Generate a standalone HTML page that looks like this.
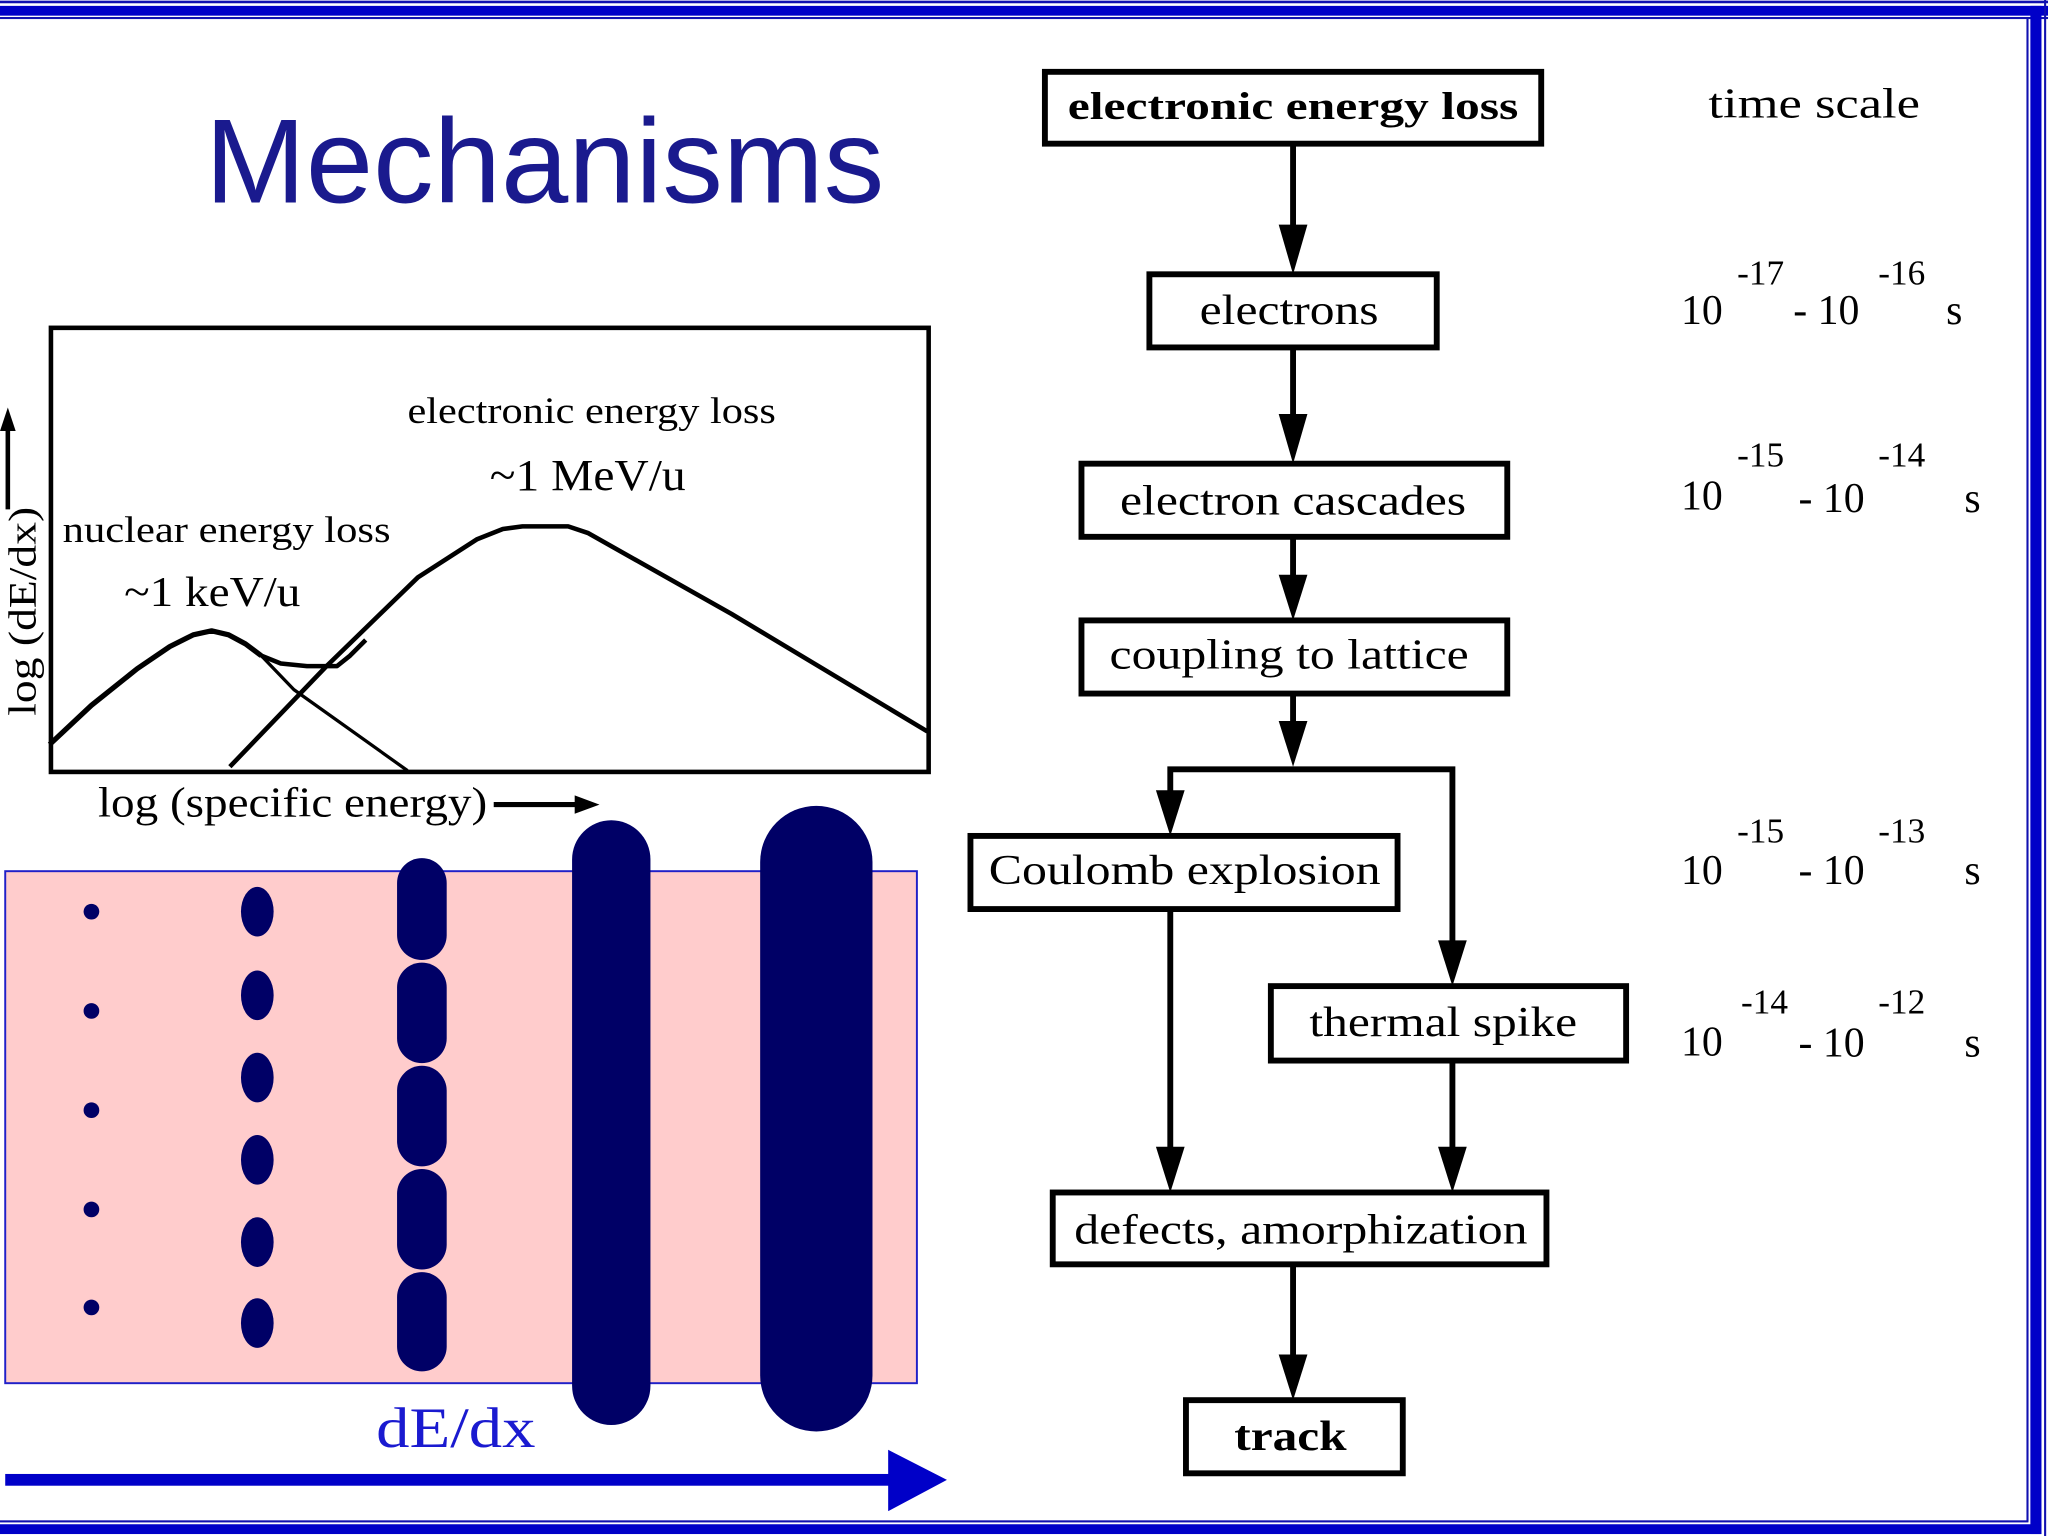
<!DOCTYPE html>
<html><head><meta charset="utf-8"><style>html,body{margin:0;padding:0;background:#fff}svg{display:block}</style></head>
<body>
<svg width="2048" height="1536" viewBox="0 0 1568 1176" preserveAspectRatio="none" xmlns="http://www.w3.org/2000/svg" font-family="Liberation Serif, serif">
<rect width="1568" height="1176" fill="#fff"/>
<rect x="0" y="0.5" width="1568" height="2" fill="#1010b0"/>
<rect x="0" y="4.5" width="1568" height="7.5" fill="#0000c8"/>
<rect x="0" y="13" width="1568" height="1.6" fill="#1010b0"/>
<rect x="1551.5" y="13" width="1.6" height="1152" fill="#1010b0"/>
<rect x="1554.5" y="4.5" width="8.5" height="1170" fill="#0000c8"/>
<rect x="1565" y="0" width="1.6" height="1176" fill="#1010b0"/>
<rect x="0" y="1164" width="1553" height="1.6" fill="#1010b0"/>
<rect x="0" y="1167" width="1563" height="7.5" fill="#0000c8"/>

<text x="157" y="155" font-family="Liberation Sans, sans-serif" font-size="92" fill="#1a1a8e" textLength="520" lengthAdjust="spacingAndGlyphs">Mechanisms</text>

<rect x="39" y="251" width="672" height="340" fill="none" stroke="#000" stroke-width="3.5"/>
<text transform="translate(27,548) rotate(-90)" font-size="30" textLength="160" lengthAdjust="spacingAndGlyphs">log (dE/dx)</text>
<line x1="6" y1="390" x2="6" y2="325" stroke="#000" stroke-width="3.5"/>
<polygon points="0,330 6,312 12,330" fill="#000"/>
<text x="312" y="324" font-size="28" textLength="282" lengthAdjust="spacingAndGlyphs">electronic energy loss</text>
<text x="375" y="375" font-size="34" textLength="150" lengthAdjust="spacingAndGlyphs">~1 MeV/u</text>
<text x="48" y="415" font-size="28" textLength="251" lengthAdjust="spacingAndGlyphs">nuclear energy loss</text>
<text x="95" y="464" font-size="32" textLength="135" lengthAdjust="spacingAndGlyphs">~1 keV/u</text>
<g fill="none" stroke="#000" stroke-linejoin="round">
<polyline points="38,570 70,540 105,512 130,495 148,486 162,483 175,486 188,493 200,502 225,528 312,590" stroke-width="2.5"/>
<polyline points="38,570 70,540 105,512 130,495 148,486 162,483 175,486 188,493 200,502" stroke-width="4"/>
<polyline points="200,502 215,508 235,510 258,510 268,502 280,490" stroke-width="3.5"/>
<polyline points="176,587 250,510 320,442 365,413 385,405 400,403 435,403 450,408 560,470 640,518 710,560" stroke-width="3.5"/>
</g>
<text x="75" y="625" font-size="32" textLength="298" lengthAdjust="spacingAndGlyphs">log (specific energy)</text>
<line x1="378" y1="616" x2="445" y2="616" stroke="#000" stroke-width="4"/>
<polygon points="440,609 459,616 440,623" fill="#000"/>

<rect x="4" y="667" width="698" height="392" fill="#ffcccc" stroke="#2020c8" stroke-width="1.5"/>
<g fill="#000066">
<circle cx="70" cy="698" r="6"/><circle cx="70" cy="774" r="6"/><circle cx="70" cy="850" r="6"/><circle cx="70" cy="926" r="6"/><circle cx="70" cy="1001" r="6"/>
<ellipse cx="197" cy="698" rx="12.5" ry="19"/><ellipse cx="197" cy="762" rx="12.5" ry="19"/><ellipse cx="197" cy="825" rx="12.5" ry="19"/><ellipse cx="197" cy="888" rx="12.5" ry="19"/><ellipse cx="197" cy="951" rx="12.5" ry="19"/><ellipse cx="197" cy="1013" rx="12.5" ry="19"/>
<rect x="304" y="657" width="38" height="78" rx="19"/><rect x="304" y="737" width="38" height="77" rx="19"/><rect x="304" y="816" width="38" height="77" rx="19"/><rect x="304" y="895" width="38" height="77" rx="19"/><rect x="304" y="974" width="38" height="76" rx="19"/>
<rect x="438" y="628" width="60" height="463" rx="30"/>
<rect x="582" y="617" width="86" height="479" rx="43"/>
</g>
<text x="288" y="1108" font-size="44" fill="#1a1ad0" textLength="122" lengthAdjust="spacingAndGlyphs">dE/dx</text>
<rect x="4" y="1128.5" width="680" height="9" fill="#0000c8"/>
<polygon points="680,1110 725,1133 680,1157" fill="#0000c8"/>

<g fill="#fff" stroke="#000" stroke-width="4.5">
<rect x="800" y="55" width="380" height="55"/>
<rect x="880" y="210" width="220" height="56"/>
<rect x="828" y="355" width="326" height="56"/>
<rect x="828" y="475" width="326" height="56"/>
<rect x="743" y="640" width="327" height="56"/>
<rect x="973" y="755" width="272" height="57"/>
<rect x="806" y="913" width="378" height="55"/>
<rect x="908" y="1072" width="166" height="56"/>
</g>
<g font-size="32" text-anchor="middle">
<text x="990" y="91" font-weight="bold" font-size="30" textLength="345" lengthAdjust="spacingAndGlyphs">electronic energy loss</text>
<text x="987" y="248" textLength="137" lengthAdjust="spacingAndGlyphs">electrons</text>
<text x="990" y="394" textLength="265" lengthAdjust="spacingAndGlyphs">electron cascades</text>
<text x="987" y="512" textLength="275" lengthAdjust="spacingAndGlyphs">coupling to lattice</text>
<text x="907" y="677" textLength="300" lengthAdjust="spacingAndGlyphs">Coulomb explosion</text>
<text x="1105" y="793" textLength="205" lengthAdjust="spacingAndGlyphs">thermal spike</text>
<text x="996" y="952" textLength="347" lengthAdjust="spacingAndGlyphs">defects, amorphization</text>
<text x="988" y="1110" font-weight="bold" textLength="86" lengthAdjust="spacingAndGlyphs">track</text>
</g>
<g stroke="#000" stroke-width="4.5" fill="none">
<line x1="990" y1="110" x2="990" y2="180"/>
<line x1="990" y1="266" x2="990" y2="325"/>
<line x1="990" y1="411" x2="990" y2="445"/>
<line x1="990" y1="531" x2="990" y2="560"/>
<polyline points="896,612 896,589 1112,589 1112,725"/>
<line x1="896" y1="696" x2="896" y2="883"/>
<line x1="1112" y1="812" x2="1112" y2="883"/>
<line x1="990" y1="968" x2="990" y2="1042"/>
</g>
<g fill="#000">
<polygon points="979,172 990,210 1001,172"/>
<polygon points="979,317 990,355 1001,317"/>
<polygon points="979,440 990,475 1001,440"/>
<polygon points="979,552 990,587 1001,552"/>
<polygon points="885,605 896,640 907,605"/>
<polygon points="1101,720 1112,755 1123,720"/>
<polygon points="885,878 896,913 907,878"/>
<polygon points="1101,878 1112,913 1123,878"/>
<polygon points="979,1037 990,1072 1001,1037"/>
</g>

<g font-size="32">
<text x="1308" y="90" textLength="162" lengthAdjust="spacingAndGlyphs">time  scale</text>
<text x="1287" y="248">10</text><text x="1330" y="218" font-size="27">-17</text><text x="1373" y="248">- 10</text><text x="1438" y="218" font-size="27">-16</text><text x="1490" y="248">s</text>
<text x="1287" y="390">10</text><text x="1330" y="357" font-size="27">-15</text><text x="1377" y="392">- 10</text><text x="1438" y="357" font-size="27">-14</text><text x="1504" y="392">s</text>
<text x="1287" y="677">10</text><text x="1330" y="645" font-size="27">-15</text><text x="1377" y="677">- 10</text><text x="1438" y="645" font-size="27">-13</text><text x="1504" y="677">s</text>
<text x="1287" y="808">10</text><text x="1333" y="776" font-size="27">-14</text><text x="1377" y="809">- 10</text><text x="1438" y="776" font-size="27">-12</text><text x="1504" y="809">s</text>
</g>
</svg>
</body></html>
